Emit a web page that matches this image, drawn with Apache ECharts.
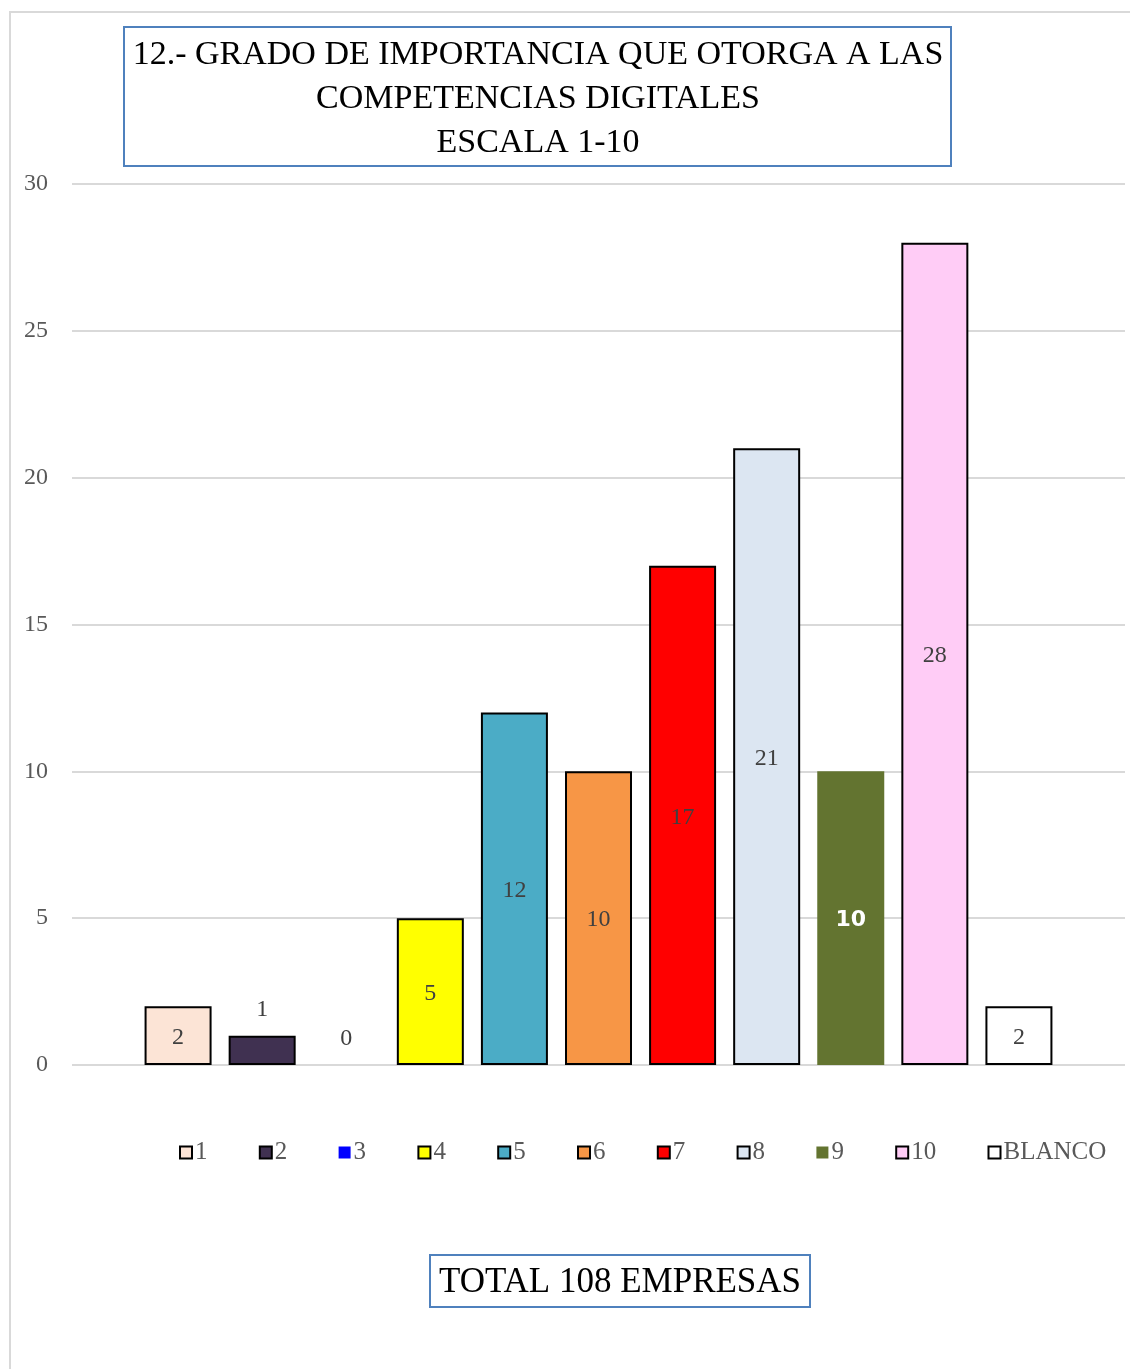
<!DOCTYPE html>
<html>
<head>
<meta charset="utf-8">
<script src="https://cdn.jsdelivr.net/npm/echarts@6/dist/echarts.min.js"></script>
<style>
  html, body { margin: 0; padding: 0; background: #fff; }
  #chart { width: 1130px; height: 1369px; }
</style>
</head>
<body>
<div id="chart"></div>
<script>
// one bar per answer on the 1-10 scale, plus "BLANCO"
var seriesNames = ['1', '2', '3', '4', '5', '6', '7', '8', '9', '10', 'BLANCO']
var seriesValues = [2, 1, 0, 5, 12, 10, 17, 21, 10, 28, 2]
var yTicks = [0, 5, 10, 15, 20, 25, 30]

var colorList = ['#FCE4D6', '#403151', '#0000FF', '#FFFF00', '#4BACC6', '#F79646', '#FF0000', '#DCE6F2', '#637430', '#FFCCF6', '#FFFFFF']
var serif = '"Liberation Serif", "DejaVu Serif", serif'

var chart = echarts.init(document.getElementById('chart'))

var series = []
for (var i = 0; i < seriesNames.length; i++) {
  var small = seriesValues[i] < 2
  var noBorder = i === 8 || i === 2
  var isOlive = i === 8
  series.push({
    name: seriesNames[i],
    type: 'bar',
    data: [seriesValues[i]],
    barWidth: 67,
    barGap: '25.5%',
    itemStyle: {
      color: colorList[i],
      borderColor: noBorder ? colorList[i] : '#000',
      borderWidth: noBorder ? 0 : 2
    },
    label: {
      show: true,
      position: small ? 'top' : 'inside',
      distance: 14,
      offset: small ? [0, 0] : [0, 2],
      fontFamily: isOlive ? '"DejaVu Sans", sans-serif' : serif,
      fontWeight: isOlive ? 'bold' : 'normal',
      fontSize: isOlive ? 22 : 24,
      color: isOlive ? '#FFFFFF' : '#404040'
    }
  })
}

chart.setOption({
  animation: false,
  backgroundColor: '#fff',
  graphic: [{
    type: 'rect',
    shape: { x: 10, y: 12, width: 1200, height: 1450 },
    style: { fill: 'none', stroke: '#D9D9D9', lineWidth: 2 },
    silent: true
  }, {
    type: 'rect',
    shape: { x: 124, y: 27, width: 827, height: 139 },
    style: { fill: '#fff', stroke: '#4F81BD', lineWidth: 2 },
    z: 10
  }, {
    type: 'text',
    x: 538,
    y: 33,
    z: 11,
    style: {
      text: '12.- GRADO DE IMPORTANCIA QUE OTORGA A LAS\nCOMPETENCIAS DIGITALES\nESCALA 1-10',
      align: 'center',
      verticalAlign: 'top',
      lineHeight: 44,
      fontFamily: serif,
      fontSize: 34,
      fill: '#000'
    }
  }, {
    type: 'rect',
    shape: { x: 430, y: 1255, width: 380, height: 52 },
    style: { fill: '#fff', stroke: '#4F81BD', lineWidth: 2 },
    z: 10
  }, {
    type: 'text',
    x: 620,
    y: 1283,
    z: 11,
    style: {
      text: 'TOTAL 108 EMPRESAS',
      align: 'center',
      verticalAlign: 'middle',
      fontFamily: serif,
      fontSize: 35,
      fill: '#000'
    }
  }],
  legend: {
    data: seriesNames,
    top: 1135,
    left: 174,
    itemWidth: 12,
    itemHeight: 12,
    itemGap: 51.3,
    icon: 'rect',
    textStyle: {
      fontFamily: serif,
      fontSize: 25,
      color: '#595959',
      padding: [0, 0, 0, -2]
    }
  },
  grid: {
    left: 72,
    right: 5,
    top: 184,
    bottom: 304,
    containLabel: false
  },
  xAxis: {
    type: 'category',
    data: [''],
    axisLine: { show: false },
    axisTick: { show: false },
    axisLabel: { show: false }
  },
  yAxis: {
    type: 'value',
    min: yTicks[0],
    max: yTicks[yTicks.length - 1],
    interval: 5,
    axisLine: { show: false },
    axisTick: { show: false },
    axisLabel: {
      fontFamily: serif,
      fontSize: 24,
      color: '#595959',
      margin: 24
    },
    splitLine: {
      lineStyle: { color: '#D9D9D9', width: 2 }
    }
  },
  series: series
})
</script>
</body>
</html>
